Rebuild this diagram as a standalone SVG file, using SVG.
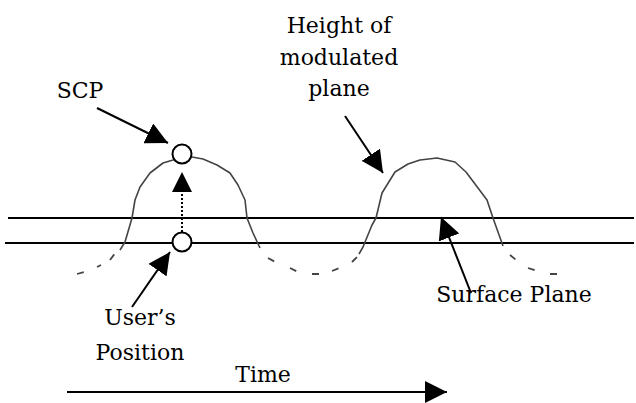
<svg xmlns="http://www.w3.org/2000/svg" width="636" height="403" viewBox="0 0 636 403">
<style>
.t{font-family:'DejaVu Serif','Liberation Serif',serif;font-size:22px;fill:#000;text-anchor:middle}
.ln{stroke:#000;stroke-width:2;fill:none}
.arr{stroke:#000;stroke-width:2;fill:none;marker-end:url(#ah)}
.curve{stroke:#444;stroke-width:1.6;fill:none;stroke-linejoin:round}
.tail{stroke:#444;stroke-width:1.8;fill:none;stroke-dasharray:7 6}
.pt{fill:#fff;stroke:#000;stroke-width:2}
</style>
<defs>
<marker id="ah" markerUnits="userSpaceOnUse" markerWidth="22" markerHeight="22" viewBox="0 0 20 20" refX="20" refY="10" orient="auto">
<path d="M0,0 L20,10 L0,20 z" fill="#000"/>
</marker>
</defs>
<rect width="636" height="403" fill="#fff"/>
<g id="surface-lines">
<line class="ln" x1="8" y1="218" x2="634" y2="218" stroke-width="1.6"/>
<line class="ln" x1="5" y1="243" x2="634" y2="243"/>
</g>
<g id="modulated-plane">
<path class="tail" d="M77,274 L88,271 M97,267 L101,265 M110,260 L116,252"/>
<path class="curve" d="M120,250 L125,242 L132,218 L135,200 L140,187 L150,173 L163,163 L173,160 L182,157 L192,157 L203,159 L217,165 L230,173 L238,185 L245,200 L247,218 L253,233 L260,248"/>
<path class="tail" d="M268,258 L277,263 M290,268 L300,273 M312,274 L322,274 M332,271 L342,267 M352,262 L358,256"/>
<path class="curve" d="M359,254 L363,247 L372,225 L376,218 L382,193 L395,172 L408,164 L420,160 L437,158 L455,162 L466,172 L475,184 L487,200 L493,218 L498,232 L503,246"/>
<path class="tail" d="M510,255 L520,263 M528,268 L540,272 M550,274 L558,274"/>
</g>
<g id="connectors">
<line class="arr" x1="97" y1="108" x2="168" y2="143"/>
<line class="arr" x1="345" y1="116" x2="383" y2="173"/>
<line class="arr" x1="471" y1="293" x2="441" y2="217"/>
<line class="arr" x1="132" y1="307" x2="170" y2="252"/>
<line x1="182" y1="232" x2="182" y2="190" stroke="#000" stroke-width="2" stroke-dasharray="2 2"/>
<path d="M172,192 L182,172 L192,192 z" fill="#000"/>
<line class="arr" x1="67" y1="392" x2="447" y2="392"/>
</g>
<g id="scp">
<circle class="pt" cx="182" cy="154" r="9.5"/>
<text class="t" x="80" y="98">SCP</text>
</g>
<g id="user-position">
<circle class="pt" cx="182" cy="242" r="9.5"/>
<text class="t" x="140" y="325">User’s</text>
<text class="t" x="140" y="360">Position</text>
</g>
<g id="height-label">
<text class="t" x="339" y="33">Height of</text>
<text class="t" x="339" y="65">modulated</text>
<text class="t" x="339" y="96">plane</text>
</g>
<g id="surface-label">
<text class="t" x="514" y="302">Surface Plane</text>
</g>
<g id="time-label">
<text class="t" x="263" y="382">Time</text>
</g>
</svg>
